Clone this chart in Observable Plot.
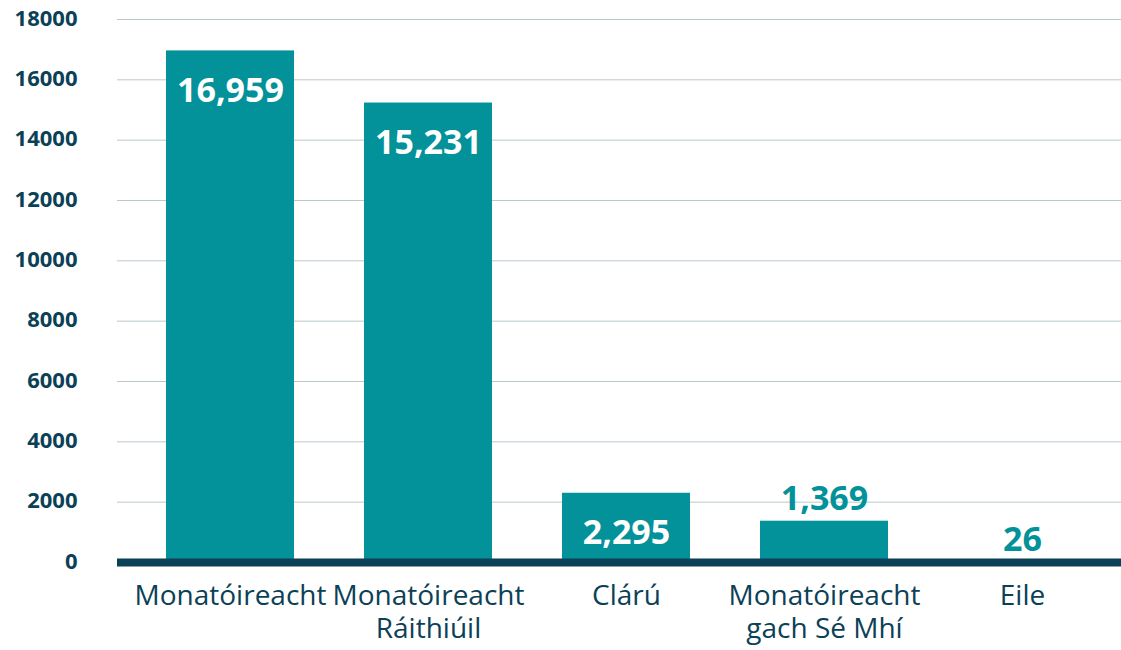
<!DOCTYPE html>
<html>
<head>
<meta charset="utf-8">
<script src="https://cdn.jsdelivr.net/npm/d3@7"></script>
<script src="https://cdn.jsdelivr.net/npm/@observablehq/plot@0.6"></script>
<style>
  html, body { margin: 0; padding: 0; background: #fff; }
  #chart svg { display: block; }
</style>
</head>
<body>
<div id="chart"></div>
<script>
const categories = ["Monatóireacht", "Monatóireacht\nRáithiúil", "Clárú", "Monatóireacht\ngach Sé Mhí", "Eile"];
const values = [16959, 15231, 2295, 1369, 26];
const yTicks = [0, 2000, 4000, 6000, 8000, 10000, 12000, 14000, 16000, 18000];

const data = categories.map((c, i) => ({cat: c, value: values[i]}));
const inside = data.filter(d => d.value > 2000);
const outside = data.filter(d => d.value <= 2000);

const teal = "#03919a";
const dark = "#0b4157";
const fmt = d3.format(",");

const chart = Plot.plot({
  width: 1121,
  height: 650,
  marginLeft: 117,
  marginRight: 0,
  marginTop: 19,
  marginBottom: 88,
  style: {fontFamily: "'Open Sans', sans-serif", background: "#fff"},
  x: {domain: categories, paddingInner: 0.354, paddingOuter: 0.212, align: 0.583, axis: null},
  y: {domain: [0, 18000], axis: null},
  marks: [
    Plot.gridY(yTicks, {stroke: "#b9c7cf", strokeOpacity: 1, strokeWidth: 1}),
    Plot.barY(data, {x: "cat", y: "value", fill: teal}),
    Plot.ruleY([0], {stroke: dark, strokeWidth: 8}),
    Plot.axisY(yTicks, {label: null, tickSize: 0, tickPadding: 40, tickFormat: d3.format("d"), fontSize: 22, fontWeight: "bold", fill: dark, dy: -1}),
    Plot.text(data, {x: "cat", text: "cat", frameAnchor: "bottom", lineAnchor: "top", dy: 18, fontSize: 28, lineHeight: 1.21, fill: dark}),
    Plot.text(inside, {x: "cat", y: "value", text: d => fmt(d.value), lineAnchor: "bottom", dy: 51, fontSize: 34, fontWeight: "bold", fill: "white"}),
    Plot.text(outside, {x: "cat", y: "value", text: d => fmt(d.value), lineAnchor: "bottom", dy: -11, fontSize: 34, fontWeight: "bold", fill: teal})
  ]
});
document.getElementById("chart").appendChild(chart);
</script>
</body>
</html>
